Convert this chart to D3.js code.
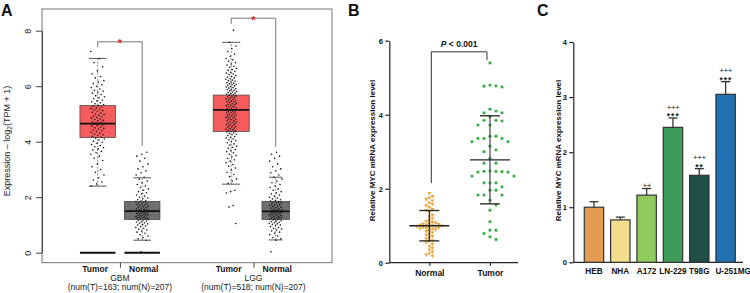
<!DOCTYPE html>
<html>
<head>
<meta charset="utf-8">
<script src="https://cdn.jsdelivr.net/npm/d3@7"></script>
<style>
  body { margin: 0; background: #fff; }
  svg { display: block; font-family: "Liberation Sans", Arial, sans-serif; }
</style>
</head>
<body>
<div id="chart"></div>
<script>
// ---------- panel A data (GEPIA box plots) ----------
const aGroups = ['GBM', 'LGG'];
const aCounts = ['(num(T)=163; num(N)=207)', '(num(T)=518; num(N)=207)'];
const aTypes = ['Tumor', 'Normal'];
const aYTicks = [0, 2, 4, 6, 8];
// boxes in order: GBM Tumor, GBM Normal, LGG Tumor, LGG Normal
const aQ1 = [4.15, 1.2, 4.37, 1.2];
const aMed = [4.65, 1.5, 5.15, 1.49];
const aQ3 = [5.3, 1.85, 5.68, 1.85];
const aLo = [2.4, 0.45, 2.47, 0.46];
const aHi = [7.0, 2.7, 7.58, 2.72];
const aZeroLine = [0, 0, null, null];
// significance brackets: top, left drop end, right drop end
const aSigTop = [7.6, 8.45];
const aSigLeft = [7.4, 8.25];
const aSigRight = [3.85, 3.82];

const gbmTumorExpr = [7.25, 7.0, 6.85, 6.7, 6.55, 6.45, 6.35, 6.3, 6.2, 6.15, 6.1, 6.05, 6.0, 5.95, 5.9, 5.85,
  5.82, 5.78, 5.75, 5.7, 5.66, 5.62, 5.58, 5.55, 5.5, 5.47, 5.44, 5.4, 5.37, 5.34, 5.3, 5.28, 5.25, 5.22, 5.2,
  5.17, 5.14, 5.12, 5.09, 5.06, 5.03, 5.0, 4.98, 4.95, 4.92, 4.9, 4.87, 4.85, 4.82, 4.8, 4.77, 4.75, 4.72, 4.7,
  4.68, 4.66, 4.65, 4.63, 4.6, 4.58, 4.56, 4.53, 4.5, 4.48, 4.45, 4.42, 4.4, 4.37, 4.34, 4.31, 4.28, 4.25, 4.22,
  4.19, 4.16, 4.13, 4.1, 4.06, 4.02, 3.98, 3.94, 3.9, 3.86, 3.82, 3.78, 3.74, 3.7, 3.65, 3.6, 3.55, 3.48, 3.4,
  3.32, 3.2, 3.1, 3.0, 2.9, 2.8, 2.7, 2.62, 2.55, 2.48, 2.4];

const lggTumorExpr = [8.02, 7.58, 7.45, 7.35, 7.25, 7.15, 7.08, 7.0, 6.95, 6.9, 6.85, 6.8, 6.76, 6.72, 6.68, 6.64,
  6.6, 6.57, 6.54, 6.5, 6.47, 6.44, 6.41, 6.38, 6.35, 6.32, 6.3, 6.27, 6.25, 6.22, 6.2, 6.18, 6.15, 6.13, 6.11,
  6.09, 6.07, 6.05, 6.03, 6.01, 5.99, 5.97, 5.95, 5.93, 5.91, 5.89, 5.87, 5.85, 5.83, 5.81, 5.79, 5.77, 5.75,
  5.73, 5.71, 5.69, 5.67, 5.65, 5.63, 5.61, 5.59, 5.57, 5.55, 5.53, 5.51, 5.49, 5.47, 5.45, 5.43, 5.41, 5.39,
  5.37, 5.35, 5.33, 5.31, 5.29, 5.27, 5.25, 5.23, 5.21, 5.19, 5.17, 5.15, 5.13, 5.11, 5.09, 5.07, 5.05, 5.03,
  5.01, 4.99, 4.97, 4.95, 4.93, 4.91, 4.89, 4.87, 4.85, 4.83, 4.81, 4.79, 4.77, 4.75, 4.73, 4.71, 4.69, 4.67,
  4.65, 4.63, 4.61, 4.59, 4.57, 4.55, 4.53, 4.51, 4.49, 4.47, 4.45, 4.43, 4.41, 4.39, 4.37, 4.35, 4.32, 4.3,
  4.27, 4.25, 4.22, 4.19, 4.16, 4.13, 4.1, 4.07, 4.04, 4.0, 3.96, 3.92, 3.88, 3.84, 3.8, 3.76, 3.72, 3.68, 3.64,
  3.6, 3.55, 3.5, 3.45, 3.4, 3.35, 3.3, 3.24, 3.18, 3.12, 3.05, 2.98, 2.9, 2.82, 2.74, 2.66, 2.58, 2.5, 2.25,
  2.2, 2.15, 1.7, 1.65, 1.05];

const brainNormalExpr = [3.62, 3.55, 3.48, 3.4, 3.3, 3.2, 3.1, 3.02, 2.95, 2.88, 2.8, 2.72, 2.65, 2.58, 2.52,
  2.46, 2.4, 2.35, 2.3, 2.25, 2.2, 2.16, 2.12, 2.08, 2.04, 2.0, 1.97, 1.94, 1.91, 1.88, 1.86, 1.84, 1.82, 1.8,
  1.78, 1.76, 1.74, 1.72, 1.7, 1.68, 1.66, 1.64, 1.62, 1.6, 1.58, 1.56, 1.55, 1.54, 1.52, 1.51, 1.5, 1.49, 1.48,
  1.46, 1.45, 1.44, 1.42, 1.41, 1.4, 1.38, 1.37, 1.36, 1.34, 1.33, 1.32, 1.3, 1.29, 1.28, 1.26, 1.25, 1.24,
  1.22, 1.21, 1.2, 1.18, 1.16, 1.14, 1.12, 1.1, 1.08, 1.06, 1.04, 1.02, 1.0, 0.97, 0.94, 0.91, 0.88, 0.85,
  0.82, 0.78, 0.74, 0.7, 0.65, 0.6, 0.55, 0.5, 0.45, 0.03];

// ---------- panel B data ----------
const bGroups = ['Normal', 'Tumor'];
const bYTicks = [0, 2, 4, 6];
const bNormal = [1.88, 1.8, 1.76, 1.72, 1.68, 1.62, 1.58, 1.55, 1.5, 1.45, 1.42, 1.38, 1.3, 1.25, 1.2, 1.15,
  1.12, 1.1, 1.08, 1.06, 1.05, 1.04, 1.03, 1.02, 1.01, 1.0, 0.99, 0.98, 0.97, 0.96, 0.95, 0.94, 0.93, 0.92,
  0.9, 0.88, 0.85, 0.82, 0.78, 0.75, 0.72, 0.68, 0.65, 0.6, 0.58, 0.55, 0.5, 0.45, 0.4, 0.35, 0.3, 0.25, 0.22, 0.19];
const bTumor = [5.4, 4.8, 4.77, 4.75, 4.78, 4.15, 4.1, 4.05, 4.05, 3.95, 3.85, 3.85, 3.83, 3.72, 3.72, 3.42,
  3.42, 3.36, 3.36, 3.36, 3.27, 3.27, 3.15, 3.05, 3.0, 2.82, 2.69, 2.69, 2.48, 2.45, 2.45, 2.46, 2.47, 2.47,
  2.34, 2.34, 2.16, 2.16, 2.16, 2.05, 1.96, 1.96, 1.83, 1.83, 1.83, 1.69, 1.56, 1.42, 1.11, 0.88, 0.88, 0.79,
  0.7, 0.63];
const bMean = [1.0, 2.78];
const bSD = [0.41, 1.19];
const bSigTop = 5.7, bSigLeft = 2.15, bSigRight = 5.48;

// ---------- panel C data ----------
const cLines = ['HEB', 'NHA', 'A172', 'LN-229', 'T98G', 'U-251MG'];
const cValues = [1.0, 0.77, 1.22, 2.45, 1.58, 3.05];
const cErr = [0.1, 0.05, 0.12, 0.17, 0.12, 0.23];
const cPlus = ['', '', '++', '+++', '+++', '+++'];
const cStars = ['', '', '', '***', '**', '***'];
const cYTicks = [0, 1, 2, 3, 4];
const cColors = ['#E49C52', '#F2DE8C', '#8FCA5C', '#3D9B5A', '#1F4E47', '#2271B3'];

const svg = d3.select('#chart').append('svg')
  .attr('width', 750).attr('height', 293)
  .attr('viewBox', '0 0 750 293');

// panel letters
[['A', 1], ['B', 348], ['C', 537]].forEach(([t, x]) => {
  svg.append('text').attr('x', x).attr('y', 15.5)
    .attr('font-size', 16).attr('font-weight', 'bold').attr('fill', '#111').text(t);
});

// ================= panel A =================
const xA = d3.scaleLinear().domain([0, 6]).range([53.2, 320.2]);
const yA = d3.scaleLinear().domain([0, 8]).range([252.7, 30.7]);
const gA = svg.append('g');

gA.append('rect')
  .attr('x', 42).attr('y', 9).attr('width', 290).attr('height', 253.7)
  .attr('fill', 'none').attr('stroke', '#666').attr('stroke-width', 0.9);

const axA = gA.append('g')
  .attr('transform', 'translate(42,0)')
  .call(d3.axisLeft(yA).tickValues(aYTicks).tickSize(6).tickSizeOuter(0));
axA.select('.domain').attr('stroke', '#444');
axA.selectAll('.tick line').attr('stroke', '#444');
axA.selectAll('.tick text')
  .attr('x', null).attr('dy', null)
  .attr('transform', 'translate(-11.5,0) rotate(-90)')
  .attr('text-anchor', 'middle')
  .attr('font-size', 9).attr('fill', '#222')
  .attr('font-family', '"Liberation Sans", Arial, sans-serif');

const ylab = gA.append('text')
  .attr('transform', 'translate(10,141) rotate(-90)')
  .attr('text-anchor', 'middle').attr('font-size', 9).attr('fill', '#222');
ylab.append('tspan').text('Expression \u2013 log');
ylab.append('tspan').attr('font-size', 6.5).attr('dy', 2).text('2');
ylab.append('tspan').attr('dy', -2).text('(TPM + 1)');

const aPos = i => Math.floor(i / 2) * 3 + (i % 2) + 1;
const aDots = [gbmTumorExpr, brainNormalExpr, lggTumorExpr, brainNormalExpr];
const aBoxW = [35.5, 35.5, 36, 27.5];
const aJit = [7, 6.5, 5.5, 6.5];

aQ1.forEach((q1, i) => {
  const cx = xA(aPos(i));
  const w = aBoxW[i];
  const fill = i % 2 === 0 ? '#F45C5D' : '#6F6F6F';
  // whiskers
  gA.append('line').attr('x1', cx).attr('x2', cx).attr('y1', yA(aLo[i])).attr('y2', yA(q1))
    .attr('stroke', '#555').attr('stroke-width', 0.7).attr('stroke-dasharray', '2 1.5');
  gA.append('line').attr('x1', cx).attr('x2', cx).attr('y1', yA(aQ3[i])).attr('y2', yA(aHi[i]))
    .attr('stroke', '#555').attr('stroke-width', 0.7).attr('stroke-dasharray', '2 1.5');
  [aLo[i], aHi[i]].forEach(v => {
    gA.append('line').attr('x1', cx - w / 4).attr('x2', cx + w / 4).attr('y1', yA(v)).attr('y2', yA(v))
      .attr('stroke', '#444').attr('stroke-width', 0.9);
  });
  gA.append('rect')
    .attr('x', cx - w / 2).attr('width', w)
    .attr('y', yA(aQ3[i])).attr('height', yA(q1) - yA(aQ3[i]))
    .attr('fill', fill).attr('stroke', '#3a3a3a').attr('stroke-width', 0.7);
  gA.append('line').attr('x1', cx - w / 2).attr('x2', cx + w / 2)
    .attr('y1', yA(aMed[i])).attr('y2', yA(aMed[i]))
    .attr('stroke', '#111').attr('stroke-width', 1.7);
  if (aZeroLine[i] !== null) {
    gA.append('line').attr('x1', cx - w / 2).attr('x2', cx + w / 2)
      .attr('y1', yA(aZeroLine[i])).attr('y2', yA(aZeroLine[i]))
      .attr('stroke', '#111').attr('stroke-width', 2);
  }
  // jittered points (deterministic golden-ratio spread)
  gA.append('g').selectAll('circle')
    .data(aDots[i])
    .enter().append('circle')
    .attr('cx', (d, k) => cx + (((k + i * 3) * 0.6180339887) % 1 - 0.5) * 2 * aJit[i])
    .attr('cy', d => yA(d))
    .attr('r', 0.8)
    .attr('fill', '#111');
});

// significance brackets
aGroups.forEach((g, j) => {
  const xl = xA(j * 3 + 1), xr = xA(j * 3 + 2);
  gA.append('path')
    .attr('d', `M${xl},${yA(aSigLeft[j])}V${yA(aSigTop[j])}H${xr}V${yA(aSigRight[j])}`)
    .attr('fill', 'none').attr('stroke', '#555').attr('stroke-width', 0.8);
  gA.append('text').attr('x', (xl + xr) / 2).attr('y', yA(aSigTop[j]) + 5.5)
    .attr('text-anchor', 'middle').attr('font-size', 11).attr('font-weight', 'bold')
    .attr('fill', '#E8222A').text('*');
});

// x axis labels
const axAx = gA.append('g')
  .attr('transform', 'translate(0,262.7)')
  .call(d3.axisBottom(xA).tickValues([1.5, 4.5]).tickSize(5).tickFormat(''));
axAx.select('.domain').remove();
axAx.selectAll('.tick line').attr('stroke', '#444');

aQ1.forEach((q, i) => {
  gA.append('text').attr('x', xA(aPos(i)) + (i % 2 === 0 ? -2.5 : 1.5)).attr('y', 272.3)
    .attr('text-anchor', 'middle').attr('font-size', 8.5).attr('font-weight', 'bold')
    .attr('fill', '#111').text(aTypes[i % 2]);
});
aGroups.forEach((g, j) => {
  const cx = xA(j * 3 + 1.5);
  gA.append('text').attr('x', cx).attr('y', 281).attr('text-anchor', 'middle')
    .attr('font-size', 8.5).attr('fill', '#222').text(g);
  gA.append('text').attr('x', cx).attr('y', 290.2).attr('text-anchor', 'middle')
    .attr('font-size', 8.5).attr('fill', '#222').text(aCounts[j]);
});

// ================= panel B =================
const xB = d3.scalePoint().domain(bGroups).range([389.3, 530]).padding(0.66);
const yB = d3.scaleLinear().domain([0, 6]).range([262.7, 40.7]);
const gB = svg.append('g');

const axBy = gB.append('g').attr('transform', 'translate(389.3,0)')
  .call(d3.axisLeft(yB).tickValues(bYTicks).tickFormat(d3.format('d'))
    .tickSize(4).tickSizeOuter(0).tickPadding(2.5));
const axBx = gB.append('g').attr('transform', 'translate(0,262.7)')
  .call(d3.axisBottom(xB).tickSize(3).tickSizeOuter(0).tickPadding(4));
axBx.select('.domain').attr('d', 'M389.3,0H518');
[axBy, axBx].forEach(a => {
  a.select('.domain').attr('stroke', '#222').attr('stroke-width', 1.2);
  a.selectAll('.tick line').attr('stroke', '#222').attr('stroke-width', 1.2);
  a.selectAll('.tick text').attr('font-weight', 'bold').attr('fill', '#111')
    .attr('font-family', '"Liberation Sans", Arial, sans-serif');
});
axBy.selectAll('.tick text').attr('font-size', 7.5);
axBx.selectAll('.tick text').attr('font-size', 8.5);

gB.append('text')
  .attr('transform', 'translate(374.5,150.5) rotate(-90)')
  .attr('text-anchor', 'middle').attr('font-size', 8).attr('font-weight', 'bold')
  .attr('fill', '#111').text('Relative MYC mRNA expression level');

function swarm(vals, cx, dia, step) {
  const placed = [];
  vals.map(v => ({ v, y: yB(v) }))
    .sort((a, b) => a.y - b.y)
    .forEach(p => {
      for (let k = 0; k < 60; k++) {
        const off = k === 0 ? 0 : (k % 2 ? 1 : -1) * Math.ceil(k / 2) * step;
        const x = cx + off;
        if (placed.every(q => Math.hypot(q.x - x, q.y - p.y) >= dia)) {
          p.x = x; placed.push(p); break;
        }
      }
    });
  return placed;
}

const triangle = d3.symbol().type(d3.symbolTriangle).size(7);
gB.append('g').selectAll('path')
  .data(swarm(bNormal, xB('Normal'), 3.1, 3.1))
  .enter().append('path')
  .attr('d', triangle)
  .attr('transform', d => `translate(${d.x},${d.y}) rotate(180)`)
  .attr('fill', '#E9A43F');

gB.append('g').selectAll('circle')
  .data(swarm(bTumor, xB('Tumor'), 5.6, 6))
  .enter().append('circle')
  .attr('cx', d => d.x).attr('cy', d => d.y).attr('r', 1.6)
  .attr('fill', '#3EAE4A');

bGroups.forEach((g, i) => {
  const cx = xB(g);
  const m = bMean[i], s = bSD[i];
  gB.append('line').attr('x1', cx).attr('x2', cx).attr('y1', yB(m - s)).attr('y2', yB(m + s))
    .attr('stroke', i ? '#444' : '#222').attr('stroke-width', 1.2);
  [m - s, m + s].forEach(v => {
    gB.append('line').attr('x1', cx - 10).attr('x2', cx + 10).attr('y1', yB(v)).attr('y2', yB(v))
      .attr('stroke', '#222').attr('stroke-width', 1.3);
  });
  gB.append('line').attr('x1', cx - 20).attr('x2', cx + 20).attr('y1', yB(m)).attr('y2', yB(m))
    .attr('stroke', '#222').attr('stroke-width', 1.4);
});

{
  const xl = xB('Normal') + 2, xr = xB('Tumor') - 3;
  gB.append('path')
    .attr('d', `M${xl},${yB(bSigLeft)}V${yB(bSigTop)}H${xr}V${yB(bSigRight)}`)
    .attr('fill', 'none').attr('stroke', '#333').attr('stroke-width', 1);
  const pt = gB.append('text').attr('x', (xl + xr) / 2).attr('y', yB(bSigTop) - 4.5)
    .attr('text-anchor', 'middle').attr('font-size', 8.5).attr('font-weight', 'bold').attr('fill', '#111');
  pt.append('tspan').attr('font-style', 'italic').text('P');
  pt.append('tspan').text(' < 0.001');
}

// ================= panel C =================
const xC = d3.scaleBand().domain(cLines).range([576.9, 742.7]).paddingInner(0.263).paddingOuter(0.28);
const yC = d3.scaleLinear().domain([0, 4]).range([262.3, 42]);
const gC = svg.append('g');

const axCy = gC.append('g').attr('transform', 'translate(573.3,0)')
  .call(d3.axisLeft(yC).tickValues(cYTicks).tickFormat(d3.format('d'))
    .tickSize(4).tickSizeOuter(0).tickPadding(2.5));
const axCx = gC.append('g').attr('transform', 'translate(0,262.3)')
  .call(d3.axisBottom(xC).tickSize(0).tickSizeOuter(0).tickPadding(6));
axCx.select('.domain').attr('d', 'M573.3,0H743');
[axCy, axCx].forEach(a => {
  a.select('.domain').attr('stroke', '#222').attr('stroke-width', 1.2);
  a.selectAll('.tick line').attr('stroke', '#222').attr('stroke-width', 1.2);
  a.selectAll('.tick text').attr('font-weight', 'bold').attr('fill', '#111')
    .attr('font-family', '"Liberation Sans", Arial, sans-serif');
});
axCy.selectAll('.tick text').attr('font-size', 7.5);
axCx.selectAll('.tick text').attr('font-size', 8.2);
// the last label sits pushed to the right in the original figure
axCx.selectAll('.tick text').filter(d => d === 'U-251MG').attr('dx', 7.5);

gC.append('text')
  .attr('transform', 'translate(560.5,150.5) rotate(-90)')
  .attr('text-anchor', 'middle').attr('font-size', 8).attr('font-weight', 'bold')
  .attr('fill', '#111').text('Relative MYC mRNA expression level');

cLines.forEach((c, i) => {
  const x0 = xC(c), bw = xC.bandwidth(), cx = x0 + bw / 2;
  const top = yC(cValues[i] + cErr[i]);
  gC.append('line').attr('x1', cx).attr('x2', cx).attr('y1', yC(cValues[i])).attr('y2', top)
    .attr('stroke', '#333').attr('stroke-width', 1.3);
  gC.append('line').attr('x1', cx - 4.5).attr('x2', cx + 4.5).attr('y1', top).attr('y2', top)
    .attr('stroke', '#333').attr('stroke-width', 1.3);
  gC.append('rect')
    .attr('x', x0).attr('width', bw)
    .attr('y', yC(cValues[i])).attr('height', yC(0) - yC(cValues[i]))
    .attr('fill', cColors[i]).attr('stroke', '#333').attr('stroke-width', 1.2);

  // significance marks: stars next to the error bar, plus signs above them
  if (cStars[i]) {
    gC.append('text').attr('x', cx + 0.3).attr('y', top + 1.2)
      .attr('text-anchor', 'middle').attr('font-size', 8.5).attr('font-weight', 'bold')
      .attr('letter-spacing', 1).attr('fill', '#222').text(cStars[i]);
  }
  if (cPlus[i]) {
    gC.append('text').attr('x', cx).attr('y', cStars[i] ? top - 8.4 : top - 0.6)
      .attr('text-anchor', 'middle').attr('font-size', 8)
      .attr('letter-spacing', -0.5).attr('fill', '#222').text(cPlus[i]);
  }
});
</script>
</body>
</html>
